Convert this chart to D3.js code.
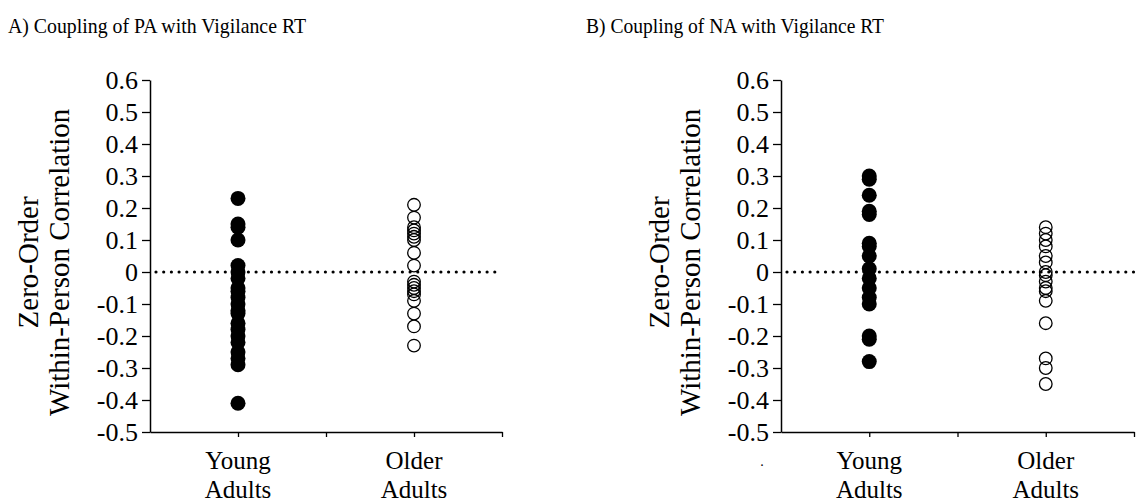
<!DOCTYPE html>
<html>
<head>
<meta charset="utf-8">
<script src="https://cdn.jsdelivr.net/npm/d3@7"></script>
<style>
  body { margin: 0; background: #fff; }
  text { font-family: "Liberation Serif", "DejaVu Serif", serif; fill: #000; }
</style>
</head>
<body>
<svg id="chart" width="1142" height="504"></svg>
<script>
// data
const groups = ["Young\nAdults", "Older\nAdults"];
const yTicks = [0.6, 0.5, 0.4, 0.3, 0.2, 0.1, 0, -0.1, -0.2, -0.3, -0.4, -0.5];

const paYoung = [0.23, 0.15, 0.14, 0.10, 0.02, 0.00, -0.02, -0.05, -0.06, -0.08, -0.10, -0.12,
                 -0.13, -0.16, -0.18, -0.20, -0.22, -0.25, -0.27, -0.29, -0.41];
const paOlder = [0.21, 0.17, 0.14, 0.13, 0.12, 0.11, 0.10, 0.06, 0.02, -0.03, -0.04, -0.05,
                 -0.06, -0.07, -0.09, -0.13, -0.17, -0.23];
const naYoung = [0.30, 0.29, 0.24, 0.19, 0.18, 0.09, 0.08, 0.05, 0.01, -0.02, -0.05, -0.08,
                 -0.10, -0.20, -0.21, -0.28];
const naOlder = [0.14, 0.12, 0.10, 0.08, 0.05, 0.03, 0.00, -0.01, -0.03, -0.05, -0.06, -0.09,
                 -0.16, -0.27, -0.30, -0.35];

const panels = [
  { title: "A) Coupling of PA with Vigilance RT", titleX: 8, left: 150, right: 502, lineEnd: 502,
    young: paYoung, older: paOlder, stray: false },
  { title: "B) Coupling of NA with Vigilance RT", titleX: 586, left: 781, right: 1134, lineEnd: 1141,
    young: naYoung, older: naOlder, stray: true }
];

const svg = d3.select('#chart');
const plotTop = 80, plotBottom = 432;

const y = d3.scaleLinear().domain([0.6, -0.5]).range([plotTop, plotBottom]);
const fmt = d => d === 0 ? "0" : (d < 0 ? "-" : "") + Math.abs(d).toFixed(1);

panels.forEach(p => {
  const g = svg.append('g');
  const x = d3.scaleLinear().domain([0, 4]).range([p.left, p.right]);

  g.append('text')
    .attr('x', p.titleX)
    .attr('y', 33)
    .attr('textLength', 298)
    .attr('lengthAdjust', 'spacingAndGlyphs')
    .style('font-size', '22px')
    .text(p.title);

  // y axis
  const yAxis = d3.axisLeft(y).tickValues(yTicks).tickFormat(fmt).tickSizeInner(8).tickSizeOuter(0).tickPadding(4);
  const yg = g.append('g').attr('transform', `translate(${p.left},0)`).call(yAxis);
  yg.select('.domain').attr('stroke-width', 1.5);
  yg.selectAll('.tick line').attr('stroke-width', 1.3);
  yg.selectAll('text').style('font-size', '26px').attr('dy', '0.34em');

  // x axis
  const xAxis = d3.axisBottom(x).tickValues([1, 2, 3, 4]).tickFormat('').tickSizeInner(5).tickSizeOuter(0);
  const xg = g.append('g').attr('transform', `translate(0,${plotBottom})`).call(xAxis);
  xg.select('.domain').attr('stroke-width', 1.5);
  xg.selectAll('.tick line').attr('stroke-width', 1.3);

  // category labels
  groups.forEach((lab, i) => {
    const t = g.append('text')
      .attr('text-anchor', 'middle')
      .style('font-size', '25px');
    lab.split('\n').forEach((s, j) => {
      t.append('tspan').attr('x', x(1 + i * 2)).attr('y', 469 + j * 29).text(s);
    });
  });

  // y label
  [["Zero-Order", 112], ["Within-Person Correlation", 81]].forEach(([s, off]) => {
    g.append('text')
      .attr('transform', `translate(${p.left - off},${y(0.03)}) rotate(-90)`)
      .attr('text-anchor', 'middle')
      .style('font-size', '29px')
      .text(s);
  });

  // zero reference line
  g.append('line')
    .attr('x1', p.left + 6).attr('x2', p.lineEnd)
    .attr('y1', y(0)).attr('y2', y(0))
    .attr('stroke', '#000')
    .attr('stroke-width', 3.2)
    .attr('stroke-linecap', 'round')
    .attr('stroke-dasharray', '0 7.7');

  // points
  g.selectAll('circle.young')
    .data(p.young)
    .enter()
    .append('circle')
    .attr('class', 'young')
    .attr('cx', x(1))
    .attr('cy', d => y(d))
    .attr('r', 7.5)
    .attr('fill', '#000');

  g.selectAll('circle.older')
    .data(p.older)
    .enter()
    .append('circle')
    .attr('class', 'older')
    .attr('cx', x(3))
    .attr('cy', d => y(d))
    .attr('r', 6.3)
    .attr('fill', 'none')
    .attr('stroke', '#000')
    .attr('stroke-width', 1.3);

  if (p.stray) {
    g.append('text')
      .attr('x', p.left - 19)
      .attr('y', 466)
      .attr('text-anchor', 'middle')
      .style('font-size', '14px')
      .text('.');
  }
});
</script>
</body>
</html>
